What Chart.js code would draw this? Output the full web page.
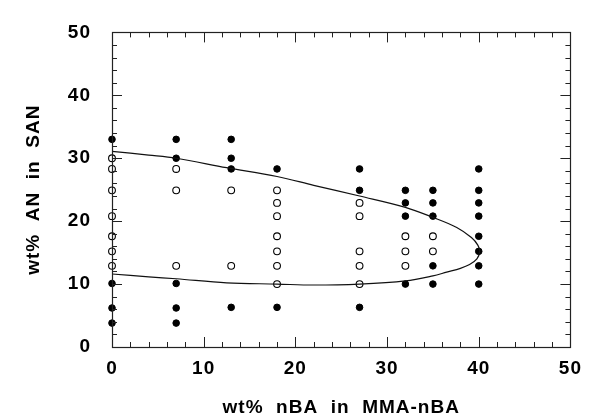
<!DOCTYPE html>
<html><head><meta charset="utf-8">
<script src="https://cdn.jsdelivr.net/npm/chart.js@4/dist/chart.umd.min.js"></script>
<style>html,body{margin:0;padding:0;background:#fff;}#wrap{width:591px;height:417px;}</style>
</head><body><div id="wrap"><canvas id="c" width="591" height="417"></canvas></div>
<script>
// Tick labels
const xTicks = [0, 10, 20, 30, 40, 50];
const yTicks = [0, 10, 20, 30, 40, 50];
// Filled circles (two-phase)
const filledX = [0,0,0,0, 7,7,7,7,7, 13,13,13,13, 18,18, 27,27,27, 32,32,32,32, 35,35,35,35,35, 40,40,40,40,40,40,40,40];
const filledY = [33.0,10.1,6.2,3.8, 33.0,30.0,10.1,6.2,3.8, 33.0,30.0,28.3,6.3, 28.3,6.3, 28.3,24.9,6.3, 24.9,22.9,20.8,10.0, 24.9,22.9,20.8,12.9,10.0, 28.3,24.9,22.9,20.8,17.6,15.2,12.9,10.0];
// Open circles (single-phase)
const openX = [0,0,0,0,0,0,0, 7,7,7, 13,13, 18,18,18,18,18,18,18, 27,27,27,27,27, 32,32,32, 35,35];
const openY = [30.0,28.3,24.9,20.8,17.6,15.2,12.9, 28.3,24.9,12.9, 24.9,12.9, 24.9,22.9,20.8,17.6,15.2,12.9,10.0, 22.9,20.8,15.2,12.9,10.0, 17.6,15.2,12.9, 17.6,15.2];
// Phase boundary curve
const curveX = [0, 4, 7, 12.5, 18, 22, 27, 32, 35, 37.6, 39.2, 39.9, 40.1, 39.8, 39.0, 38.0, 36.5, 35, 32, 27, 22, 18, 12.5, 7, 4, 0];
const curveY = [31.1, 30.5, 30.0, 28.5, 27.1, 25.7, 24.0, 22.2, 20.6, 19.0, 17.4, 16.2, 15.2, 14.0, 13.1, 12.5, 11.9, 11.3, 10.5, 10.0, 9.85, 10.0, 10.2, 10.85, 11.15, 11.6];

const toPts = (xs, ys) => xs.map((x, i) => ({x: x, y: ys[i]}));

const framePlugin = {
  id: 'frame',
  beforeDraw(chart) { chart.ctx.letterSpacing = '1px'; },
  afterDatasetsDraw(chart) {
    const {ctx, chartArea: a, scales: {x, y}} = chart;
    ctx.save();
    ctx.strokeStyle = '#222';
    ctx.lineWidth = 1.2;
    ctx.strokeRect(Math.round(a.left) + 0.5, Math.round(a.top) + 0.5, Math.round(a.right - a.left), Math.round(a.bottom - a.top));
    ctx.lineWidth = 1;
    ctx.beginPath();
    for (let v = 2; v < 50; v += 2) {
      const L = v % 10 === 0 ? 10 : 5;
      const px = Math.round(x.getPixelForValue(v)) + 0.5;
      ctx.moveTo(px, a.bottom); ctx.lineTo(px, a.bottom - L);
      ctx.moveTo(px, a.top); ctx.lineTo(px, a.top + L);
      const py = Math.round(y.getPixelForValue(v)) + 0.5;
      ctx.moveTo(a.left, py); ctx.lineTo(a.left + L, py);
      ctx.moveTo(a.right, py); ctx.lineTo(a.right - L, py);
    }
    ctx.stroke();
    ctx.restore();
  }
};

const tickFont = {family: 'Liberation Sans, Arial, Helvetica, sans-serif', size: 19, weight: 'bold'};
const titleFont = {family: 'Liberation Sans, Arial, Helvetica, sans-serif', size: 19, weight: 'bold', lineHeight: 1.0};

new Chart(document.getElementById('c'), {
  type: 'scatter',
  data: {
    datasets: [
      {data: toPts(curveX, curveY), showLine: true, borderColor: '#111', borderWidth: 1.2, pointRadius: 0, tension: 0.35, fill: false, clip: false},
      {data: toPts(openX, openY), pointRadius: 3.4, pointBorderWidth: 1.1, pointBorderColor: '#000', pointBackgroundColor: 'rgba(0,0,0,0)', showLine: false, clip: false},
      {data: toPts(filledX, filledY), pointRadius: 3.3, pointBorderWidth: 1, pointBorderColor: '#000', pointBackgroundColor: '#000', showLine: false, clip: false}
    ]
  },
  options: {
    responsive: false,
    animation: false,
    devicePixelRatio: 1,
    events: [],
    layout: {padding: {top: 22, right: 14, left: 0, bottom: 0}},
    plugins: {legend: {display: false}, tooltip: {enabled: false}},
    scales: {
      x: {
        type: 'linear', min: 0, max: 50,
        afterBuildTicks: s => { s.ticks = xTicks.map(v => ({value: v})); },
        afterFit: s => { s.height = 70; },
        grid: {display: false, drawTicks: false},
        border: {display: false},
        ticks: {font: tickFont, color: '#000', padding: 10, maxRotation: 0},
        title: {display: true, text: 'wt%  nBA  in  MMA-nBA', font: titleFont, color: '#000', padding: {top: 0, bottom: 0}}
      },
      y: {
        type: 'linear', min: 0, max: 50,
        afterBuildTicks: s => { s.ticks = yTicks.map(v => ({value: v})); },
        afterFit: s => { s.width = 112; },
        grid: {display: false, drawTicks: false},
        border: {display: false},
        ticks: {font: tickFont, color: '#000', padding: 21},
        title: {display: true, text: 'wt%  AN  in  SAN', font: titleFont, color: '#000', padding: {top: 24, bottom: 0}}
      }
    }
  },
  plugins: [framePlugin]
});
</script></body></html>
